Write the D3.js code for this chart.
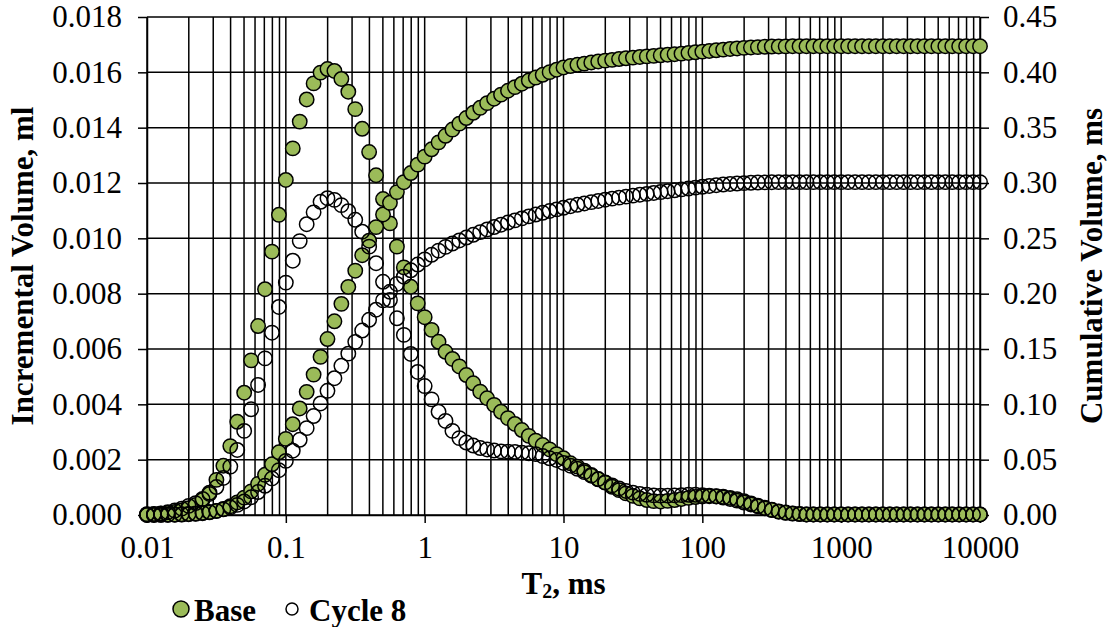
<!DOCTYPE html>
<html>
<head>
<meta charset="utf-8">
<script src="https://cdn.jsdelivr.net/npm/d3@7"></script>
<style>
  body { margin: 0; background: #fff; }
  svg { display: block; }
</style>
</head>
<body>
<svg id="chart" width="1111" height="627"></svg>
<script>
// T2 relaxation time bins, ms (20 bins per decade)
const t2 = [
  1.000e-2, 1.122e-2, 1.259e-2, 1.413e-2, 1.585e-2, 1.778e-2, 1.995e-2, 2.239e-2, 2.512e-2, 2.818e-2,
  3.162e-2, 3.548e-2, 3.981e-2, 4.467e-2, 5.012e-2, 5.623e-2, 6.310e-2, 7.079e-2, 7.943e-2, 8.913e-2,
  1.000e-1, 1.122e-1, 1.259e-1, 1.413e-1, 1.585e-1, 1.778e-1, 1.995e-1, 2.239e-1, 2.512e-1, 2.818e-1,
  3.162e-1, 3.548e-1, 3.981e-1, 4.467e-1, 5.012e-1, 5.623e-1, 6.310e-1, 7.079e-1, 7.943e-1, 8.913e-1,
  1.000e0, 1.122e0, 1.259e0, 1.413e0, 1.585e0, 1.778e0, 1.995e0, 2.239e0, 2.512e0, 2.818e0,
  3.162e0, 3.548e0, 3.981e0, 4.467e0, 5.012e0, 5.623e0, 6.310e0, 7.079e0, 7.943e0, 8.913e0,
  1.000e1, 1.122e1, 1.259e1, 1.413e1, 1.585e1, 1.778e1, 1.995e1, 2.239e1, 2.512e1, 2.818e1,
  3.162e1, 3.548e1, 3.981e1, 4.467e1, 5.012e1, 5.623e1, 6.310e1, 7.079e1, 7.943e1, 8.913e1,
  1.000e2, 1.122e2, 1.259e2, 1.413e2, 1.585e2, 1.778e2, 1.995e2, 2.239e2, 2.512e2, 2.818e2,
  3.162e2, 3.548e2, 3.981e2, 4.467e2, 5.012e2, 5.623e2, 6.310e2, 7.079e2, 7.943e2, 8.913e2,
  1.000e3, 1.122e3, 1.259e3, 1.413e3, 1.585e3, 1.778e3, 1.995e3, 2.239e3, 2.512e3, 2.818e3,
  3.162e3, 3.548e3, 3.981e3, 4.467e3, 5.012e3, 5.623e3, 6.310e3, 7.079e3, 7.943e3, 8.913e3,
  1.000e4
];

// Incremental volume, ml
const baseIncremental = [
  0.00002, 0.00003, 0.00005, 0.00007, 0.00011, 0.00016, 0.00025, 0.00036, 0.00054, 0.00081,
  0.00127, 0.00178, 0.00249, 0.00337, 0.00442, 0.00559, 0.00683, 0.00816, 0.00952, 0.01085,
  0.01211, 0.01325, 0.01422, 0.01502, 0.01560, 0.01599, 0.01612, 0.01605, 0.01576, 0.01530,
  0.01467, 0.01396, 0.01312, 0.01228, 0.01142, 0.01054, 0.00970, 0.00895, 0.00825, 0.00765,
  0.00715, 0.00669, 0.00626, 0.00590, 0.00564, 0.00537, 0.00506, 0.00476, 0.00446, 0.00422,
  0.00398, 0.00373, 0.00350, 0.00329, 0.00307, 0.00286, 0.00269, 0.00253, 0.00237, 0.00220,
  0.00205, 0.00187, 0.00175, 0.00160, 0.00145, 0.00129, 0.00117, 0.00102, 0.00090, 0.00078,
  0.00069, 0.00060, 0.00054, 0.00050, 0.00049, 0.00051, 0.00054, 0.00058, 0.00062, 0.00065,
  0.00067, 0.00068, 0.00068, 0.00066, 0.00062, 0.00057, 0.00050, 0.00042, 0.00034, 0.00026,
  0.00019, 0.00013, 0.00009, 0.00006, 0.00004, 0.00002, 0.00002, 0.00002, 0.00002, 0.00002,
  0.00002, 0.00002, 0.00002, 0.00002, 0.00002, 0.00002, 0.00002, 0.00002, 0.00002, 0.00002,
  0.00002, 0.00002, 0.00002, 0.00002, 0.00002, 0.00002, 0.00002, 0.00002, 0.00002, 0.00002,
  0.00002
];

const cycle8Incremental = [
  0.00003, 0.00004, 0.00006, 0.00010, 0.00016, 0.00023, 0.00033, 0.00043, 0.00058, 0.00076,
  0.00101, 0.00134, 0.00175, 0.00235, 0.00304, 0.00382, 0.00470, 0.00566, 0.00659, 0.00752,
  0.00840, 0.00919, 0.00990, 0.01051, 0.01094, 0.01132, 0.01145, 0.01139, 0.01120, 0.01098,
  0.01067, 0.01024, 0.00970, 0.00910, 0.00843, 0.00777, 0.00711, 0.00651, 0.00582, 0.00517,
  0.00466, 0.00418, 0.00373, 0.00340, 0.00304, 0.00278, 0.00262, 0.00251, 0.00242, 0.00237,
  0.00233, 0.00230, 0.00229, 0.00228, 0.00225, 0.00223, 0.00220, 0.00213, 0.00205, 0.00199,
  0.00188, 0.00178, 0.00167, 0.00155, 0.00142, 0.00130, 0.00118, 0.00107, 0.00096, 0.00087,
  0.00081, 0.00076, 0.00073, 0.00071, 0.00070, 0.00070, 0.00071, 0.00072, 0.00073, 0.00073,
  0.00072, 0.00070, 0.00067, 0.00063, 0.00058, 0.00052, 0.00045, 0.00038, 0.00031, 0.00024,
  0.00018, 0.00012, 0.00008, 0.00005, 0.00003, 0.00002, 0.00002, 0.00002, 0.00002, 0.00002,
  0.00002, 0.00002, 0.00002, 0.00002, 0.00002, 0.00002, 0.00002, 0.00002, 0.00002, 0.00002,
  0.00002, 0.00002, 0.00002, 0.00002, 0.00002, 0.00002, 0.00002, 0.00002, 0.00002, 0.00002,
  0.00002
];

// Cumulative volume (secondary axis)
const baseCumulative = [
  0.00002, 0.00005, 0.00010, 0.00017, 0.00028, 0.00044, 0.00069, 0.00105, 0.00159, 0.00240,
  0.00367, 0.00545, 0.00794, 0.01131, 0.01573, 0.02132, 0.02815, 0.03631, 0.04583, 0.05668,
  0.06879, 0.08204, 0.09626, 0.11128, 0.12688, 0.14287, 0.15899, 0.17504, 0.19080, 0.20610,
  0.22077, 0.23473, 0.24785, 0.26013, 0.27155, 0.28209, 0.29179, 0.30074, 0.30899, 0.31664,
  0.32379, 0.33048, 0.33674, 0.34264, 0.34828, 0.35365, 0.35871, 0.36347, 0.36793, 0.37215,
  0.37613, 0.37986, 0.38336, 0.38665, 0.38972, 0.39258, 0.39527, 0.39780, 0.40017, 0.40237,
  0.40442, 0.4057, 0.4068, 0.4079, 0.4089, 0.4098, 0.4106, 0.4113, 0.4120, 0.4127,
  0.4133, 0.4139, 0.4144, 0.4149, 0.4154, 0.4159, 0.4164, 0.4169, 0.4175, 0.4181,
  0.4187, 0.4193, 0.4199, 0.4205, 0.4211, 0.4216, 0.4221, 0.4225, 0.4228, 0.4231,
  0.4233, 0.4234, 0.4235, 0.4236, 0.4236, 0.4236, 0.4236, 0.4236, 0.4236, 0.4236,
  0.4236, 0.4236, 0.4236, 0.4236, 0.4236, 0.4236, 0.4236, 0.4236, 0.4236, 0.4236,
  0.4236, 0.4236, 0.4236, 0.4236, 0.4236, 0.4236, 0.4236, 0.4236, 0.4236, 0.4236,
  0.4236
];

const cycle8Cumulative = [
  0.00003, 0.00007, 0.00013, 0.00023, 0.00039, 0.00062, 0.00095, 0.00138, 0.00196, 0.00272,
  0.00373, 0.00507, 0.00682, 0.00917, 0.01221, 0.01603, 0.02073, 0.02639, 0.03298, 0.04050,
  0.04890, 0.05809, 0.06799, 0.07850, 0.08944, 0.10076, 0.11221, 0.12360, 0.13480, 0.14578,
  0.15645, 0.16669, 0.17639, 0.18549, 0.19392, 0.20169, 0.20880, 0.21531, 0.22113, 0.22630,
  0.23096, 0.23514, 0.23887, 0.24227, 0.24531, 0.24809, 0.25071, 0.25322, 0.25564, 0.2580,
  0.2602, 0.2623, 0.2643, 0.2662, 0.2680, 0.2698, 0.2715, 0.2731, 0.2747, 0.2762,
  0.2776, 0.2790, 0.2803, 0.2815, 0.2827, 0.2838, 0.2849, 0.2859, 0.2868, 0.2877,
  0.2886, 0.2894, 0.2902, 0.2910, 0.2918, 0.2926, 0.2934, 0.2942, 0.2950, 0.2958,
  0.2966, 0.2973, 0.2980, 0.2986, 0.2991, 0.2995, 0.2999, 0.3002, 0.3004, 0.3006,
  0.3007, 0.3008, 0.3008, 0.3008, 0.3008, 0.3008, 0.3008, 0.3008, 0.3008, 0.3008,
  0.3008, 0.3008, 0.3008, 0.3008, 0.3008, 0.3008, 0.3008, 0.3008, 0.3008, 0.3008,
  0.3008, 0.3008, 0.3008, 0.3008, 0.3008, 0.3008, 0.3008, 0.3008, 0.3008, 0.3008,
  0.3008
];

// Axis tick labels
const xTickValues = [0.01, 0.1, 1, 10, 100, 1000, 10000];
const xTickLabels = ["0.01", "0.1", "1", "10", "100", "1000", "10000"];
const leftTickLabels = ["0.000", "0.002", "0.004", "0.006", "0.008", "0.010", "0.012", "0.014", "0.016", "0.018"];
const rightTickLabels = ["0.00", "0.05", "0.10", "0.15", "0.20", "0.25", "0.30", "0.35", "0.40", "0.45"];

const seriesNames = ["Base", "Cycle 8"];
const xTitle = "T";
const leftTitle = "Incremental Volume, ml";
const rightTitle = "Cumulative Volume, ms";

// ---- layout ----
const FONT = "'Liberation Serif','Times New Roman',Times,serif";
const FS = 31;
const GREEN = "#9bbb59";
const GRID_W = 1.5;
const plot = { left: 147, right: 980, top: 17, bottom: 515 };

const x = d3.scaleLog().domain([0.01, 10000]).range([plot.left, plot.right]);
const yL = d3.scaleLinear().domain([0, 0.018]).range([plot.bottom, plot.top]);
const yR = d3.scaleLinear().domain([0, 0.45]).range([plot.bottom, plot.top]);

const svg = d3.select("#chart");
svg.append("rect").attr("width", 1111).attr("height", 627).attr("fill", "#fff");

// vertical gridlines at every 1..9 x 10^k
svg.append("g")
  .selectAll("line")
  .data(x.ticks())
  .join("line")
  .attr("x1", d => x(d)).attr("x2", d => x(d))
  .attr("y1", plot.top).attr("y2", plot.bottom)
  .attr("stroke", "#000").attr("stroke-width", GRID_W);

// horizontal gridlines, one per left tick
const leftTickValues = leftTickLabels.map(Number);
svg.append("g")
  .selectAll("line")
  .data(leftTickValues)
  .join("line")
  .attr("x1", plot.left).attr("x2", plot.right)
  .attr("y1", d => yL(d)).attr("y2", d => yL(d))
  .attr("stroke", "#000").attr("stroke-width", GRID_W);

function styleAxis(g) {
  g.attr("font-family", FONT).attr("font-size", FS);
  g.selectAll("path.domain").attr("stroke", "#000").attr("stroke-width", GRID_W);
  g.selectAll(".tick line").attr("stroke", "#000").attr("stroke-width", GRID_W);
  g.selectAll(".tick text").attr("fill", "#000");
}

// left axis
svg.append("g")
  .attr("transform", `translate(${plot.left},0)`)
  .call(d3.axisLeft(yL).tickValues(leftTickValues)
    .tickFormat((d, i) => leftTickLabels[i])
    .tickSize(9).tickSizeOuter(0).tickPadding(16))
  .call(styleAxis);

// right axis
const rightTickValues = rightTickLabels.map(Number);
svg.append("g")
  .attr("transform", `translate(${plot.right},0)`)
  .call(d3.axisRight(yR).tickValues(rightTickValues)
    .tickFormat((d, i) => rightTickLabels[i])
    .tickSize(9).tickSizeOuter(0).tickPadding(14))
  .call(styleAxis);

// bottom axis
svg.append("g")
  .attr("transform", `translate(0,${plot.bottom})`)
  .call(d3.axisBottom(x).tickValues(xTickValues)
    .tickFormat((d, i) => xTickLabels[i])
    .tickSize(8).tickSizeOuter(0).tickPadding(13))
  .call(styleAxis);

// ---- markers ----
const R = 7.2;
function drawSeries(values, yScale, fill) {
  svg.append("g")
    .selectAll("circle")
    .data(values)
    .join("circle")
    .attr("cx", (d, i) => x(t2[i]))
    .attr("cy", d => yScale(d))
    .attr("r", R)
    .attr("fill", fill)
    .attr("stroke", "#000")
    .attr("stroke-width", 1.5);
}
drawSeries(baseIncremental, yL, GREEN);
drawSeries(baseCumulative, yR, GREEN);
drawSeries(cycle8Incremental, yL, "none");
drawSeries(cycle8Cumulative, yR, "none");

// ---- titles ----
const xt = svg.append("text")
  .attr("x", (plot.left + plot.right) / 2).attr("y", 594)
  .attr("text-anchor", "middle")
  .attr("font-family", FONT).attr("font-size", FS).attr("font-weight", "bold");
xt.append("tspan").text(xTitle);
xt.append("tspan").attr("font-size", 20).attr("dy", 4).text("2");
xt.append("tspan").attr("dy", -4).text(", ms");

svg.append("text")
  .attr("transform", `translate(33,${(plot.top + plot.bottom) / 2}) rotate(-90)`)
  .attr("text-anchor", "middle")
  .attr("font-family", FONT).attr("font-size", FS).attr("font-weight", "bold")
  .text(leftTitle);

svg.append("text")
  .attr("transform", `translate(1102,${(plot.top + plot.bottom) / 2}) rotate(-90)`)
  .attr("text-anchor", "middle")
  .attr("font-family", FONT).attr("font-size", FS).attr("font-weight", "bold")
  .text(rightTitle);

// ---- legend ----
const legend = svg.append("g").attr("font-family", FONT).attr("font-size", FS).attr("font-weight", "bold");
const legendItems = [
  { name: seriesNames[0], fill: GREEN, cx: 181, r: 8, tx: 194 },
  { name: seriesNames[1], fill: "none", cx: 292, r: 6, tx: 309 }
];
legendItems.forEach(it => {
  legend.append("circle").attr("cx", it.cx).attr("cy", 609).attr("r", it.r)
    .attr("fill", it.fill).attr("stroke", "#000").attr("stroke-width", 1.5);
  legend.append("text").attr("x", it.tx).attr("y", 621).text(it.name);
});
</script>
</body>
</html>
